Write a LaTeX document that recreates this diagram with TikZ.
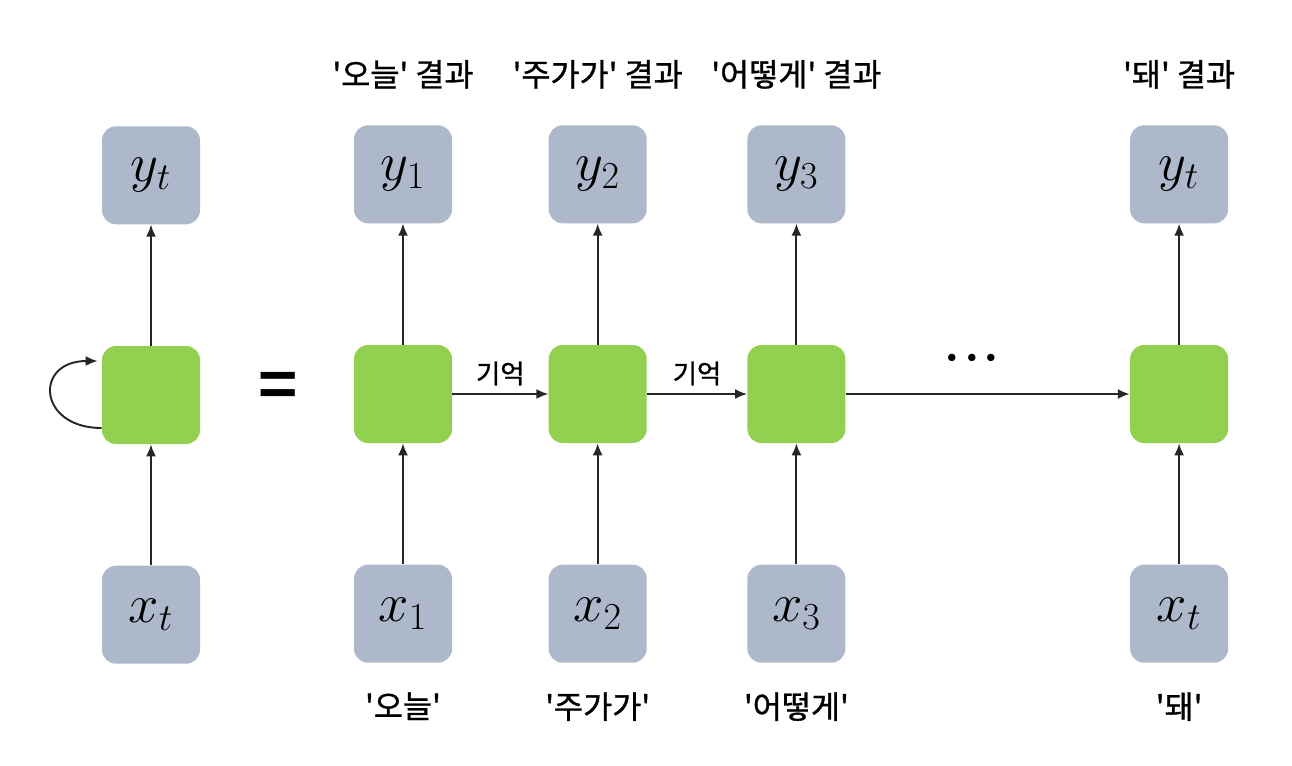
\RequirePackage{fix-cm}
\documentclass[tikz,border=0pt]{standalone}
\usepackage{fontspec}
\usepackage{tikz}
\usetikzlibrary{positioning,arrows.meta}
\newfontfamily\kr{Noto Sans CJK KR}[FakeBold=1]
\newfontfamily\krb{Noto Sans CJK KR Bold}
\definecolor{boxgray}{HTML}{ADB9CA}
\definecolor{boxgreen}{HTML}{92D050}

\begin{document}
\begin{tikzpicture}[
cell/.style={rectangle, rounded corners=0.28cm, fill=boxgreen, minimum size=1.96cm, inner sep=0pt},
io/.style={rectangle, rounded corners=0.28cm, fill=boxgray, minimum size=1.96cm, inner sep=0pt, font=\fontsize{31}{31}\selectfont},
lbl/.style={font=\kr\fontsize{18}{21}\selectfont},
mem/.style={font=\kr\fontsize{15}{17}\selectfont},
dotsym/.style={font=\fontsize{40}{40}\selectfont},
arr/.style={-{Latex[length=2.4mm,width=2mm]}, line width=1.1pt, draw=black!85}
]
\useasboundingbox (0,0) rectangle (25.84,-15.3);
%Nodes
\node[cell]  (h0)  at (3.02,-7.9)             {};
\node[io]    (y0)  [above=2.42cm of h0]       {$y_t$};
\node[io]    (x0)  [below=2.42cm of h0]       {$x_t$};
\node[font=\krb\fontsize{38}{38}\selectfont] (eq) at (5.56,-7.82) {=};

\node[cell]  (h1)  at (8.06,-7.88)            {};
\node[cell]  (h2)  [right=1.92cm of h1]       {};
\node[cell]  (h3)  [right=2cm of h2]          {};
\node[cell]  (h4)  [right=5.68cm of h3]       {};

\node[io]    (y1)  [above=2.42cm of h1]       {$y_1$};
\node[io]    (y2)  [above=2.42cm of h2]       {$y_2$};
\node[io]    (y3)  [above=2.42cm of h3]       {$y_3$};
\node[io]    (y4)  [above=2.42cm of h4]       {$y_t$};
\node[io]    (x1)  [below=2.42cm of h1]       {$x_1$};
\node[io]    (x2)  [below=2.42cm of h2]       {$x_2$};
\node[io]    (x3)  [below=2.42cm of h3]       {$x_3$};
\node[io]    (x4)  [below=2.42cm of h4]       {$x_t$};

\node[lbl]   (o1)  [above=0.6cm of y1]        {'오늘' 결과};
\node[lbl]   (o2)  [above=0.6cm of y2]        {'주가가' 결과};
\node[lbl]   (o3)  [above=0.6cm of y3]        {'어떻게' 결과};
\node[lbl]   (o4)  [above=0.6cm of y4]        {'돼' 결과};
\node[lbl]   (i1)  [below=0.46cm of x1]       {'오늘'};
\node[lbl]   (i2)  [below=0.46cm of x2]       {'주가가'};
\node[lbl]   (i3)  [below=0.46cm of x3]       {'어떻게'};
\node[lbl]   (i4)  [below=0.46cm of x4]       {'돼'};

\node[dotsym] (dots) at (19.44,-7.2)          {${\cdot}{\cdot}{\cdot}$};
%Lines
\draw[arr] (h0) -- (y0);
\draw[arr] (x0) -- (h0);
\draw[arr] ([yshift=-0.66cm]h0.west) .. controls +(-1.28,0) and +(-1.28,0) .. ([yshift=0.68cm, xshift=-0.08cm]h0.west);
\foreach \i in {1,...,4}{
  \draw[arr] (h\i) -- (y\i);
  \draw[arr] (x\i) -- (h\i);
}
\draw[arr] (h1) -- (h2) node [midway, above, yshift=1pt, mem] {기억};
\draw[arr] (h2) -- (h3) node [midway, above, yshift=1pt, mem] {기억};
\draw[arr] (h3) -- (h4);
\end{tikzpicture}
\end{document}
